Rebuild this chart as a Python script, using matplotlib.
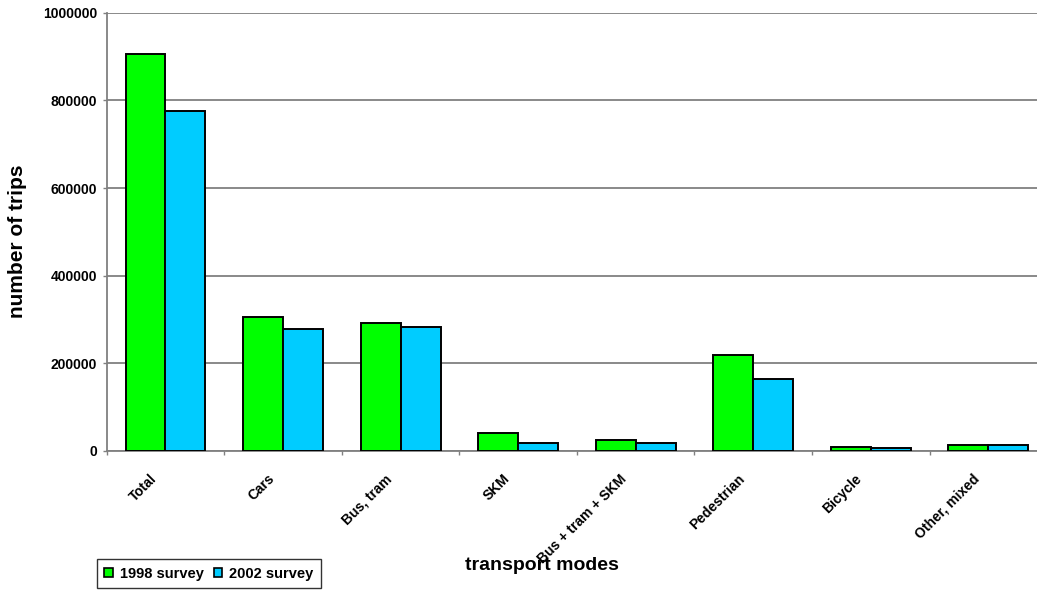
import numpy as np
import matplotlib
matplotlib.use("Agg")
import matplotlib.pyplot as plt
from matplotlib.patches import Patch
from matplotlib.transforms import ScaledTranslation

plt.rcParams['font.family'] = ['Liberation Sans', 'DejaVu Sans']
plt.rcParams['font.weight'] = 'bold'

categories = ["Total", "Cars", "Bus, tram", "SKM", "Bus + tram + SKM",
              "Pedestrian", "Bicycle", "Other, mixed"]
survey_1998 = [905000, 306000, 293000, 42000, 24000, 220000, 10000, 14000]
survey_2002 = [776000, 278000, 284000, 19000, 18000, 165000, 6000, 14000]
series_labels = ["1998 survey", "2002 survey"]
y_ticks = [0, 200000, 400000, 600000, 800000, 1000000]

green = "#00FF00"
blue = "#00CCFF"
grid_grey = "#808080"

fig = plt.figure(figsize=(10.37, 5.90), dpi=100)
ax = fig.add_axes([0.1029, 0.2356, 0.9068, 0.7429])

x = np.arange(len(categories))
w = 0.34
ax.bar(x - w / 2, survey_1998, width=w, color=green, edgecolor="black",
       linewidth=1.4, zorder=3)
ax.bar(x + w / 2, survey_2002, width=w, color=blue, edgecolor="black",
       linewidth=1.4, zorder=3)

ax.set_xlim(-0.5, len(categories) - 0.5)
ax.set_ylim(0, 1000000)

ax.set_yticks(y_ticks)
ax.set_yticklabels([str(v) for v in y_ticks], fontsize=10, fontweight="bold")
ax.yaxis.grid(True, color=grid_grey, linewidth=1.3, zorder=0)
ax.set_axisbelow(True)

# category labels at centres, short tick marks at category boundaries
ax.set_xticks(x)
ax.set_xticklabels(categories, rotation=45, ha="right", va="top",
                   fontsize=10, fontweight="bold")
ax.set_xticks(np.arange(len(categories) + 1) - 0.5, minor=True)
ax.tick_params(axis="x", which="major", length=0, pad=15)
ax.tick_params(axis="x", which="minor", length=3, width=1, color=grid_grey,
               direction="out")
ax.tick_params(axis="y", length=3, width=1, color=grid_grey, pad=4)
for lbl in ax.get_xticklabels():
    lbl.set_transform(lbl.get_transform() +
                      ScaledTranslation(-6 / 100, 0, fig.dpi_scale_trans))

for side in ("top", "right"):
    ax.spines[side].set_visible(False)
ax.spines["left"].set_color(grid_grey)
ax.spines["bottom"].set_color(grid_grey)
ax.spines["left"].set_linewidth(1.3)
ax.spines["bottom"].set_linewidth(1.3)

fig.text(17.5 / 1037, 1 - 241 / 590, "number of trips", rotation=90,
         ha="center", va="center", fontsize=15, fontweight="bold")
fig.text(542 / 1037, 1 - 566 / 590, "transport modes",
         ha="center", va="center", fontsize=14, fontweight="bold")

handles = [Patch(facecolor=green, edgecolor="black", linewidth=1.2),
           Patch(facecolor=blue, edgecolor="black", linewidth=1.2)]
leg = fig.legend(handles, series_labels, loc="lower left",
                 bbox_to_anchor=(97 / 1037, 2 / 590), ncol=2,
                 fontsize=10.5, frameon=True, fancybox=False,
                 handlelength=0.6, handleheight=0.6, handletextpad=0.45,
                 columnspacing=0.7, borderpad=0.5, borderaxespad=0)
leg.get_frame().set_edgecolor("black")
leg.get_frame().set_linewidth(1)
for t in leg.get_texts():
    t.set_fontweight("bold")

fig.savefig("out.png", dpi=100)
